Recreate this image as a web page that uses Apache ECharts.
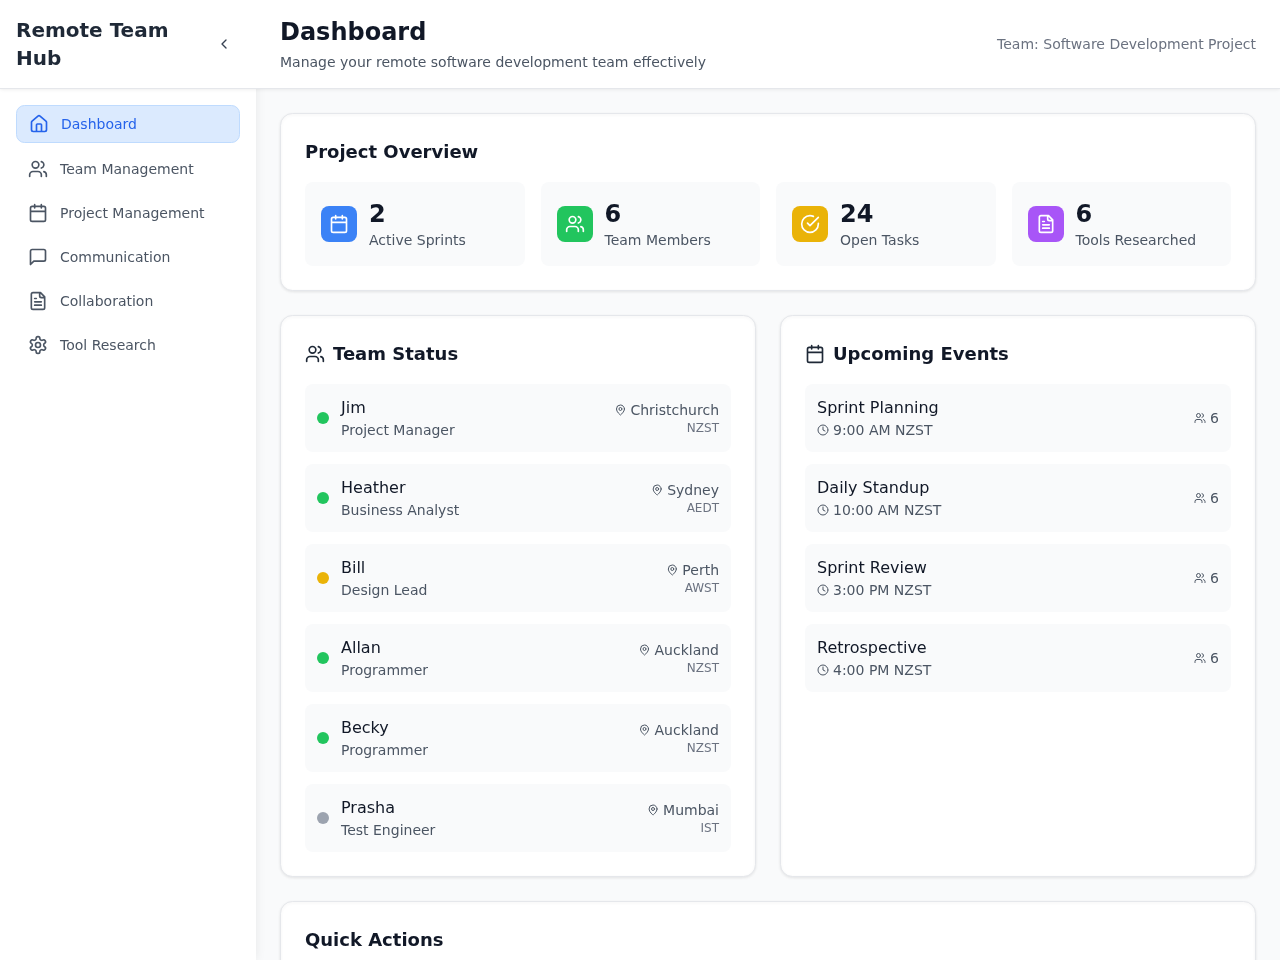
<!DOCTYPE html>
<html>
<head>
<meta charset="utf-8">
<title>Remote Team Hub</title>
<script src="https://cdn.jsdelivr.net/npm/echarts@6/dist/echarts.min.js"></script>
<style>
  html, body { margin: 0; padding: 0; background: #f9fafb; }
  #main { width: 1280px; height: 960px; }
</style>
</head>
<body>
<div id="main"></div>
<script>
// data
const navLabels = ['Dashboard', 'Team Management', 'Project Management', 'Communication', 'Collaboration', 'Tool Research'];
const navIcons = ['house', 'users', 'calendar', 'message', 'file', 'settings'];

const statValues = ['2', '6', '24', '6'];
const statLabels = ['Active Sprints', 'Team Members', 'Open Tasks', 'Tools Researched'];
const statIcons = ['calendar', 'users', 'check', 'file'];
const statColors = ['#3b82f6', '#22c55e', '#eab308', '#a855f7'];

const memberNames = ['Jim', 'Heather', 'Bill', 'Allan', 'Becky', 'Prasha'];
const memberRoles = ['Project Manager', 'Business Analyst', 'Design Lead', 'Programmer', 'Programmer', 'Test Engineer'];
const memberCities = ['Christchurch', 'Sydney', 'Perth', 'Auckland', 'Auckland', 'Mumbai'];
const memberZones = ['NZST', 'AEDT', 'AWST', 'NZST', 'NZST', 'IST'];
const memberStatus = ['#22c55e', '#22c55e', '#eab308', '#22c55e', '#22c55e', '#9ca3af'];

const eventNames = ['Sprint Planning', 'Daily Standup', 'Sprint Review', 'Retrospective'];
const eventTimes = ['9:00 AM NZST', '10:00 AM NZST', '3:00 PM NZST', '4:00 PM NZST'];
const eventPeople = [6, 6, 6, 6];

const FONT = '"DejaVu Sans"';

// lucide icons, 24x24 box
const iconPaths = {
  house: 'M15 21v-8a1 1 0 0 0-1-1h-4a1 1 0 0 0-1 1v8M3 10a2 2 0 0 1 .709-1.528l7-5.999a2 2 0 0 1 2.582 0l7 5.999A2 2 0 0 1 21 10v9a2 2 0 0 1-2 2H5a2 2 0 0 1-2-2z',
  users: 'M16 21v-2a4 4 0 0 0-4-4H6a4 4 0 0 0-4 4v2M13 7a4 4 0 1 1-8 0a4 4 0 1 1 8 0M22 21v-2a4 4 0 0 0-3-3.87M16 3.13a4 4 0 0 1 0 7.75',
  calendar: 'M8 2v4M16 2v4M5 4h14a2 2 0 0 1 2 2v14a2 2 0 0 1-2 2H5a2 2 0 0 1-2-2V6a2 2 0 0 1 2-2zM3 10h18',
  message: 'M21 15a2 2 0 0 1-2 2H7l-4 4V5a2 2 0 0 1 2-2h14a2 2 0 0 1 2 2z',
  file: 'M15 2H6a2 2 0 0 0-2 2v16a2 2 0 0 0 2 2h12a2 2 0 0 0 2-2V7ZM14 2v4a2 2 0 0 0 2 2h4M10 9H8M16 13H8M16 17H8',
  settings: 'M12.22 2h-.44a2 2 0 0 0-2 2v.18a2 2 0 0 1-1 1.73l-.43.25a2 2 0 0 1-2 0l-.15-.08a2 2 0 0 0-2.73.73l-.22.38a2 2 0 0 0 .73 2.73l.15.1a2 2 0 0 1 1 1.72v.51a2 2 0 0 1-1 1.74l-.15.09a2 2 0 0 0-.73 2.73l.22.38a2 2 0 0 0 2.73.73l.15-.08a2 2 0 0 1 2 0l.43.25a2 2 0 0 1 1 1.73V20a2 2 0 0 0 2 2h.44a2 2 0 0 0 2-2v-.18a2 2 0 0 1 1-1.73l.43-.25a2 2 0 0 1 2 0l.15.08a2 2 0 0 0 2.73-.73l.22-.39a2 2 0 0 0-.73-2.73l-.15-.08a2 2 0 0 1-1-1.74v-.5a2 2 0 0 1 1-1.74l.15-.09a2 2 0 0 0 .73-2.73l-.22-.38a2 2 0 0 0-2.73-.73l-.15.08a2 2 0 0 1-2 0l-.43-.25a2 2 0 0 1-1-1.73V4a2 2 0 0 0-2-2zM15 12a3 3 0 1 1-6 0a3 3 0 1 1 6 0',
  check: 'M22 11.08V12a10 10 0 1 1-5.93-9.14M9 11l3 3L22 4',
  pin: 'M20 10c0 6-8 12-8 12s-8-6-8-12a8 8 0 0 1 16 0ZM15 10a3 3 0 1 1-6 0a3 3 0 1 1 6 0',
  clock: 'M22 12a10 10 0 1 1-20 0a10 10 0 1 1 20 0M12 6v6l4 2',
  chevron: 'M15 18l-6-6 6-6'
};
Object.keys(iconPaths).forEach(function(name) {
  echarts.graphic.registerShape('icon_' + name, echarts.graphic.extendPath(iconPaths[name], {}));
});

function icon(name, cx, cy, size, color) {
  let s = size / 24;
  return {
    type: 'icon_' + name,
    x: cx - size / 2,
    y: cy - size / 2,
    scaleX: s,
    scaleY: s,
    silent: true,
    style: { fill: 'none', stroke: color, lineWidth: 2, lineCap: 'round', lineJoin: 'round' }
  };
}

function label(text, x, y, size, color, weight, align) {
  return {
    type: 'text',
    silent: true,
    style: {
      text: text,
      x: x,
      y: y + 1, // canvas middle sits 1px above the css line box centre
      fill: color,
      font: (weight || 'normal') + ' ' + size + 'px ' + FONT,
      textAlign: align || 'left',
      textVerticalAlign: 'middle'
    }
  };
}

function box(x, y, w, h, r, fill, stroke, shadow) {
  let style = { fill: fill };
  if (stroke) {
    style.stroke = stroke;
    style.lineWidth = 1;
  }
  if (shadow) {
    style.shadowBlur = shadow.blur;
    style.shadowOffsetY = shadow.y || 0;
    style.shadowColor = shadow.color;
  }
  return { type: 'rect', silent: true, shape: { x: x, y: y, width: w, height: h, r: r }, style: style };
}

let measureCtx = document.createElement('canvas').getContext('2d');
function textWidth(text, size) {
  measureCtx.font = size + 'px ' + FONT;
  return measureCtx.measureText(text).width;
}

function renderNav(params, api) {
  let i = params.dataIndex;
  let cy = api.coord([0, i])[1];
  let items = [];
  if (i === 0) {
    cy -= 1;
    items.push(box(16.5, cy - 18.5, 223, 37, 8, '#dbeafe', '#bfdbfe'));
    items.push(icon(navIcons[i], 39, cy, 20, '#2563eb'));
    items.push(label(navLabels[i], 61, cy, 14, '#2563eb'));
  } else {
    items.push(icon(navIcons[i], 38, cy, 20, '#4b5563'));
    items.push(label(navLabels[i], 60, cy, 14, '#4b5563'));
  }
  return { type: 'group', children: items };
}

function renderStat(params, api) {
  let i = params.dataIndex;
  let p = api.coord([i, 0]);
  // card edges snap to whole pixels, text does not
  let exactLeft = p[0] - 109.75;
  let left = Math.round(exactLeft + 0.01);
  let right = Math.round(p[0] + 109.75 + 0.01);
  let items = [
    box(left, p[1] - 42, right - left, 84, 8, '#f9fafb'),
    box(left + 16, p[1] - 18, 36, 36, 8, statColors[i]),
    icon(statIcons[i], left + 34, p[1], 20, '#ffffff'),
    label(statValues[i], exactLeft + 64, p[1] - 9, 24, '#111827', 'bold'),
    label(statLabels[i], exactLeft + 64, p[1] + 16, 14, '#4b5563')
  ];
  return { type: 'group', children: items };
}

function renderMember(params, api) {
  let i = params.dataIndex;
  let cy = api.coord([0, i])[1];
  let pinX = 719 - textWidth(memberCities[i], 14) - 10;
  let items = [
    box(305, cy - 34, 426, 68, 8, '#f9fafb'),
    { type: 'circle', silent: true, shape: { cx: 323, cy: cy, r: 6 }, style: { fill: memberStatus[i] } },
    label(memberNames[i], 341, cy - 10, 16, '#111827'),
    label(memberRoles[i], 341, cy + 12, 14, '#4b5563'),
    icon('pin', pinX, cy - 8, 12, '#4b5563'),
    label(memberCities[i], 719, cy - 8, 14, '#4b5563', 'normal', 'right'),
    label(memberZones[i], 719, cy + 10, 12, '#6b7280', 'normal', 'right')
  ];
  return { type: 'group', children: items };
}

function renderEvent(params, api) {
  let i = params.dataIndex;
  let cy = api.coord([0, i])[1];
  let items = [
    box(805, cy - 34, 426, 68, 8, '#f9fafb'),
    label(eventNames[i], 817, cy - 10, 16, '#111827'),
    icon('clock', 823, cy + 12, 12, '#4b5563'),
    label(eventTimes[i], 833, cy + 12, 14, '#4b5563'),
    icon('users', 1200, cy, 12, '#4b5563'),
    label(String(eventPeople[i]), 1219, cy, 14, '#4b5563', 'normal', 'right')
  ];
  return { type: 'group', children: items };
}

function hiddenValue(gridIndex, min) {
  return { type: 'value', show: false, gridIndex: gridIndex, min: min || 0, max: 1 };
}
function hiddenCategory(gridIndex, data, inverse) {
  return { type: 'category', show: false, gridIndex: gridIndex, data: data, inverse: !!inverse };
}
function listSeries(gridIndex, data, renderItem) {
  return {
    type: 'custom',
    silent: true,
    clip: false,
    xAxisIndex: gridIndex,
    yAxisIndex: gridIndex,
    encode: { x: 0, y: 1 },
    renderItem: renderItem,
    data: data
  };
}

let mainChart = echarts.init(document.getElementById('main'), null, { renderer: 'canvas', width: 1280, height: 960 });

let cardShadow = { blur: 3, y: 1, color: 'rgba(0,0,0,0.08)' };
let staticShapes = [
  // page frame
  box(0, 0, 256, 960, 0, '#ffffff', null, { blur: 10, color: 'rgba(0,0,0,0.08)' }),
  box(0, 0, 1280, 88, 0, '#ffffff', null, { blur: 4, y: 1, color: 'rgba(0,0,0,0.1)' }),
  box(0, 88, 1280, 1, 0, '#e5e7eb'),
  // cards
  box(280.5, 113.5, 975, 177, 12, '#ffffff', '#e5e7eb', cardShadow),
  box(280.5, 315.5, 475, 561, 12, '#ffffff', '#e5e7eb', cardShadow),
  box(780.5, 315.5, 475, 561, 12, '#ffffff', '#e5e7eb', cardShadow),
  box(280.5, 901.5, 975, 120, 12, '#ffffff', '#e5e7eb', cardShadow),
  // header
  label('Remote Team', 16, 31, 20, '#1f2937', 'bold'),
  label('Hub', 16, 59, 20, '#1f2937', 'bold'),
  icon('chevron', 224, 44, 16, '#374151'),
  label('Dashboard', 280, 33, 24, '#111827', 'bold'),
  label('Manage your remote software development team effectively', 280, 62, 14, '#4b5563'),
  label('Team: Software Development Project', 1256, 44, 14, '#6b7280', 'normal', 'right'),
  // card titles
  label('Project Overview', 305, 152, 18, '#111827', 'bold'),
  icon('users', 315, 354, 20, '#1f2937'),
  label('Team Status', 333, 354, 18, '#111827', 'bold'),
  icon('calendar', 815, 354, 20, '#1f2937'),
  label('Upcoming Events', 833, 354, 18, '#111827', 'bold'),
  label('Quick Actions', 305, 940, 18, '#111827', 'bold')
];

let dashboardOption = {
  animation: false,
  backgroundColor: '#f9fafb',
  tooltip: { show: false },
  graphic: { elements: staticShapes },
  grid: [
    { left: 16, top: 103, width: 224, height: 264 },
    { left: 297, top: 182, width: 942, height: 84 },
    { left: 305, top: 378, width: 426, height: 480 },
    { left: 805, top: 378, width: 426, height: 320 }
  ],
  xAxis: [
    hiddenValue(0),
    hiddenCategory(1, statLabels),
    hiddenValue(2),
    hiddenValue(3)
  ],
  yAxis: [
    hiddenCategory(0, navLabels, true),
    hiddenValue(1, -1), // stat cards sit mid-way up this axis
    hiddenCategory(2, memberNames, true),
    hiddenCategory(3, eventNames, true)
  ],
  series: [
    listSeries(0, navLabels.map((item, index) => [0, index]), renderNav),
    listSeries(1, statLabels.map((item, index) => [index, 0]), renderStat),
    listSeries(2, memberNames.map((item, index) => [0, index]), renderMember),
    listSeries(3, eventNames.map((item, index) => [0, index]), renderEvent)
  ]
};
mainChart.setOption(dashboardOption);
</script>
</body>
</html>
